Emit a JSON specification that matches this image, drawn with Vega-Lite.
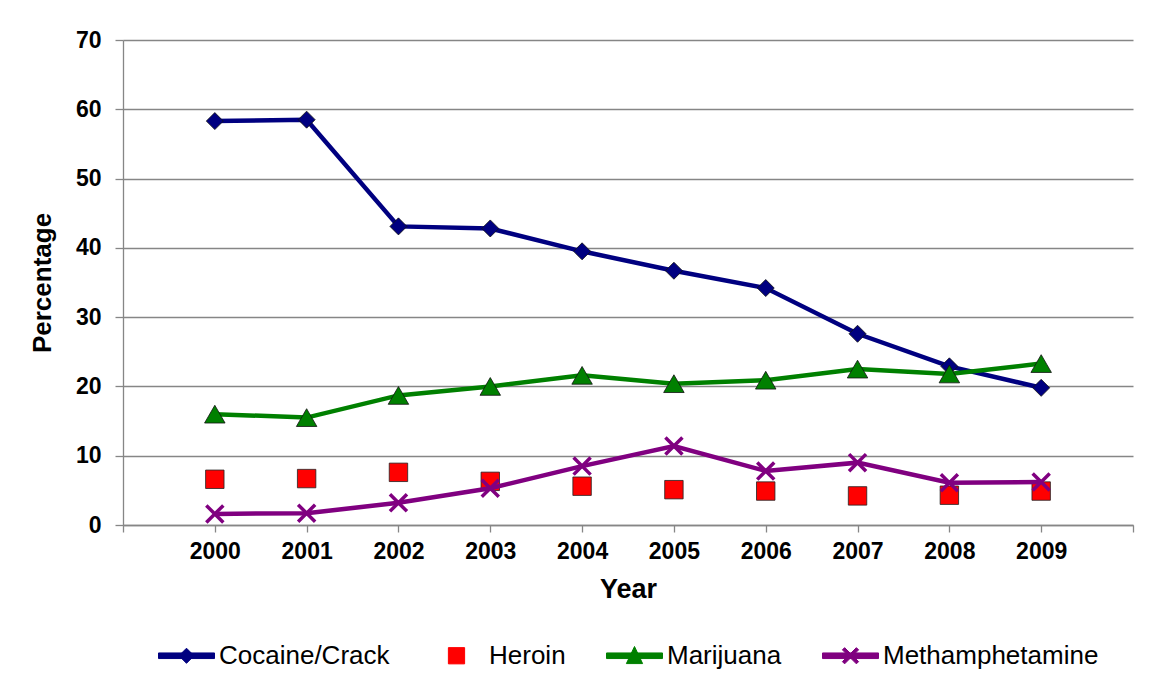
{
  "$schema": "https://vega.github.io/schema/vega-lite/v6.json",
  "width": 1010,
  "height": 485,
  "autosize": {"type": "none"},
  "padding": {"left": 123, "top": 40, "right": 31, "bottom": 162},
  "background": "white",
  "config": {
    "font": "Liberation Sans",
    "view": {"stroke": null},
    "axis": {
      "domainColor": "#868686",
      "tickColor": "#868686",
      "gridColor": "#868686",
      "domainWidth": 1.3,
      "tickWidth": 1.3,
      "gridWidth": 1.3,
      "labelFont": "Liberation Sans",
      "labelFontWeight": "bold",
      "labelColor": "#000000",
      "titleFont": "Liberation Sans",
      "titleFontWeight": "bold",
      "titleColor": "#000000"
    }
  },
  "data": {
    "values": [
      {"Year": 2000, "Drug": "Cocaine/Crack", "Value": 58.3},
      {"Year": 2001, "Drug": "Cocaine/Crack", "Value": 58.5},
      {"Year": 2002, "Drug": "Cocaine/Crack", "Value": 43.1},
      {"Year": 2003, "Drug": "Cocaine/Crack", "Value": 42.8},
      {"Year": 2004, "Drug": "Cocaine/Crack", "Value": 39.5},
      {"Year": 2005, "Drug": "Cocaine/Crack", "Value": 36.7},
      {"Year": 2006, "Drug": "Cocaine/Crack", "Value": 34.2},
      {"Year": 2007, "Drug": "Cocaine/Crack", "Value": 27.6},
      {"Year": 2008, "Drug": "Cocaine/Crack", "Value": 22.9},
      {"Year": 2009, "Drug": "Cocaine/Crack", "Value": 19.8},
      {"Year": 2000, "Drug": "Heroin", "Value": 6.6},
      {"Year": 2001, "Drug": "Heroin", "Value": 6.7},
      {"Year": 2002, "Drug": "Heroin", "Value": 7.6},
      {"Year": 2003, "Drug": "Heroin", "Value": 6.3},
      {"Year": 2004, "Drug": "Heroin", "Value": 5.6},
      {"Year": 2005, "Drug": "Heroin", "Value": 5.1},
      {"Year": 2006, "Drug": "Heroin", "Value": 4.9},
      {"Year": 2007, "Drug": "Heroin", "Value": 4.2},
      {"Year": 2008, "Drug": "Heroin", "Value": 4.3},
      {"Year": 2009, "Drug": "Heroin", "Value": 4.9},
      {"Year": 2000, "Drug": "Marijuana", "Value": 16.0},
      {"Year": 2001, "Drug": "Marijuana", "Value": 15.5},
      {"Year": 2002, "Drug": "Marijuana", "Value": 18.7},
      {"Year": 2003, "Drug": "Marijuana", "Value": 20.0},
      {"Year": 2004, "Drug": "Marijuana", "Value": 21.6},
      {"Year": 2005, "Drug": "Marijuana", "Value": 20.4},
      {"Year": 2006, "Drug": "Marijuana", "Value": 20.9},
      {"Year": 2007, "Drug": "Marijuana", "Value": 22.5},
      {"Year": 2008, "Drug": "Marijuana", "Value": 21.8},
      {"Year": 2009, "Drug": "Marijuana", "Value": 23.3},
      {"Year": 2000, "Drug": "Methamphetamine", "Value": 1.6},
      {"Year": 2001, "Drug": "Methamphetamine", "Value": 1.7},
      {"Year": 2002, "Drug": "Methamphetamine", "Value": 3.2},
      {"Year": 2003, "Drug": "Methamphetamine", "Value": 5.3},
      {"Year": 2004, "Drug": "Methamphetamine", "Value": 8.5},
      {"Year": 2005, "Drug": "Methamphetamine", "Value": 11.4},
      {"Year": 2006, "Drug": "Methamphetamine", "Value": 7.8},
      {"Year": 2007, "Drug": "Methamphetamine", "Value": 9.0},
      {"Year": 2008, "Drug": "Methamphetamine", "Value": 6.1},
      {"Year": 2009, "Drug": "Methamphetamine", "Value": 6.2}
    ]
  },
  "encoding": {
    "x": {
      "field": "Year",
      "type": "quantitative",
      "scale": {"domain": [1999, 2010], "nice": false, "zero": false},
      "axis": {
        "title": "Year",
        "titleFontSize": 27,
        "titlePadding": 13,
        "labelFontSize": 23,
        "labelPadding": 8,
        "labelFlush": false,
        "labelOverlap": false,
        "values": [1999, 2000, 2001, 2002, 2003, 2004, 2005, 2006, 2007, 2008, 2009, 2010],
        "labelExpr": "datum.value >= 2000 && datum.value <= 2009 ? format(datum.value, 'd') : ''",
        "tickSize": 7,
        "grid": false
      }
    },
    "y": {
      "field": "Value",
      "type": "quantitative",
      "scale": {"domain": [0, 70], "nice": false},
      "axis": {
        "title": "Percentage",
        "titleFontSize": 26,
        "titlePadding": 20,
        "labelFontSize": 23,
        "labelPadding": 14,
        "values": [0, 10, 20, 30, 40, 50, 60, 70],
        "tickSize": 8,
        "grid": true
      }
    }
  },
  "layer": [
    {
      "transform": [{"filter": "datum.Drug === 'Cocaine/Crack'"}],
      "mark": {"type": "line", "strokeWidth": 4.5},
      "encoding": {
        "color": {
          "field": "Drug",
          "type": "nominal",
          "scale": {
            "domain": ["Cocaine/Crack", "Heroin", "Marijuana", "Methamphetamine"],
            "range": ["#000080", "#ff0000", "#008000", "#800080"]
          },
          "legend": {
            "title": null,
            "orient": "none",
            "direction": "horizontal",
            "columns": 4,
            "legendX": 35,
            "legendY": 587,
            "labelFont": "Liberation Sans",
            "labelFontSize": 26,
            "labelColor": "#000000",
            "labelLimit": 0,
            "labelOffset": 4,
            "columnPadding": 38,
            "symbolSize": 3136,
            "symbolStrokeWidth": 0,
            "encode": {
              "symbols": {
                "update": {
                  "shape": {"signal": "datum.value === 'Cocaine/Crack' ? 'M-1,-0.1H1V0.1H-1Z M0,-0.27L0.27,0L0,0.27L-0.27,0Z' : datum.value === 'Heroin' ? 'M-0.29,-0.29H0.29V0.29H-0.29Z' : datum.value === 'Marijuana' ? 'M-1,-0.1H1V0.1H-1Z M0,-0.33L0.29,0.28L-0.29,0.28Z' : 'M-1,-0.1H1V0.1H-1Z M-0.29,-0.21L-0.21,-0.29L0.29,0.21L0.21,0.29Z M0.21,-0.29L0.29,-0.21L-0.21,0.29L-0.29,0.21Z'"},
                  "fill": {"signal": "datum.value === 'Cocaine/Crack' ? '#000080' : datum.value === 'Heroin' ? '#ff0000' : datum.value === 'Marijuana' ? '#008000' : '#800080'"},
                  "stroke": {"signal": "datum.value === 'Heroin' ? '#222222' : 'transparent'"},
                  "strokeWidth": {"value": 1},
                  "opacity": {"value": 1}
                }
              }
            }
          }
        }
      }
    },
    {
      "transform": [{"filter": "datum.Drug === 'Cocaine/Crack'"}],
      "mark": {"type": "point", "shape": "diamond", "size": 290, "filled": true, "fill": "#000080", "stroke": "#111111", "strokeWidth": 0.8, "opacity": 1}
    },
    {
      "transform": [{"filter": "datum.Drug === 'Heroin'"}],
      "mark": {"type": "point", "shape": "square", "size": 340, "filled": true, "fill": "#ff0000", "stroke": "#222222", "strokeWidth": 0.8, "opacity": 1}
    },
    {
      "transform": [{"filter": "datum.Drug === 'Marijuana'"}],
      "mark": {"type": "line", "strokeWidth": 4.5},
      "encoding": {
        "color": {"field": "Drug", "type": "nominal"}
      }
    },
    {
      "transform": [{"filter": "datum.Drug === 'Marijuana'"}],
      "mark": {"type": "point", "shape": "triangle-up", "size": 420, "filled": true, "fill": "#008000", "stroke": "#111111", "strokeWidth": 0.8, "opacity": 1}
    },
    {
      "transform": [{"filter": "datum.Drug === 'Methamphetamine'"}],
      "mark": {"type": "line", "strokeWidth": 4.5},
      "encoding": {
        "color": {"field": "Drug", "type": "nominal"}
      }
    },
    {
      "transform": [{"filter": "datum.Drug === 'Methamphetamine'"}],
      "mark": {"type": "point", "shape": "M-1,-1L1,1M-1,1L1,-1", "size": 290, "filled": false, "stroke": "#800080", "strokeWidth": 3.5, "opacity": 1}
    }
  ]
}
